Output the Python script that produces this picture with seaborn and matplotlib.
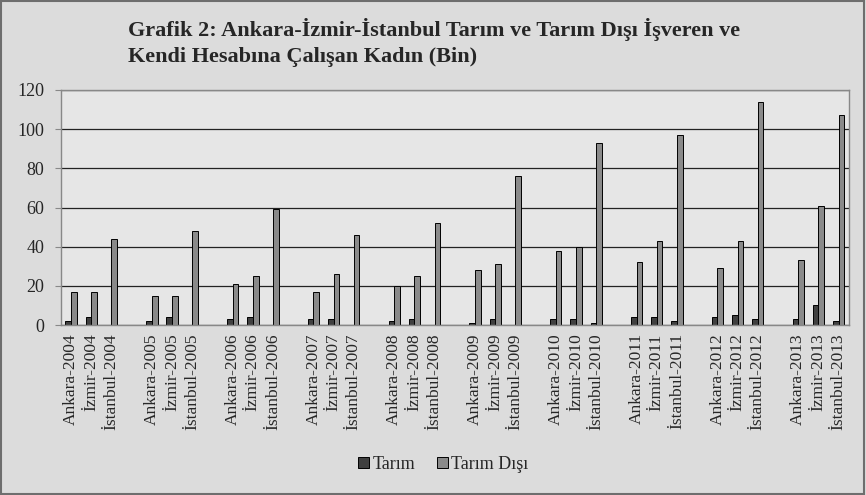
import pandas as pd
import matplotlib.pyplot as plt
import seaborn as sns
from matplotlib.patches import Rectangle

# data (thousands)
years = [2004, 2005, 2006, 2007, 2008, 2009, 2010, 2011, 2012, 2013]
cities = ['Ankara', 'İzmir', 'İstanbul']
tarim = [
    2, 4, 0,
    2, 4, 0,
    3, 4, 0,
    3, 3, 0,
    2, 3, 0,
    1, 3, 0,
    3, 3, 1,
    4, 4, 2,
    4, 5, 3,
    3, 10, 2,
]
tarim_disi = [
    17, 17, 44,
    15, 15, 48,
    21, 25, 59,
    17, 26, 46,
    20, 25, 52,
    28, 31, 76,
    38, 40, 93,
    32, 43, 97,
    29, 43, 114,
    33, 61, 107,
]
series_names = ['Tarım', 'Tarım Dışı']
series_colors = ['#404040', '#8a8a8a']


def create_visualization():
    # category order with an empty slot after every year
    labels = []
    order = []
    rows = []
    k = 0
    for i, y in enumerate(years):
        for c in cities:
            name = f'{c}-{y}'
            labels.append(name)
            order.append(name)
            rows.append({'kategori': name, 'seri': series_names[0], 'deger': tarim[k]})
            rows.append({'kategori': name, 'seri': series_names[1], 'deger': tarim_disi[k]})
            k += 1
        if i < len(years) - 1:
            gap = ' ' * (i + 1)
            labels.append('')
            order.append(gap)
    df = pd.DataFrame(rows)

    sns.set_style('white')
    plt.rcParams['font.family'] = ['Liberation Serif', 'DejaVu Serif']

    fig = plt.figure(figsize=(8.66, 4.95), dpi=100)
    fig.patch.set_facecolor('#dcdcdc')
    fig.patches.append(Rectangle((0.001, 0.002), 0.997, 0.995, transform=fig.transFigure,
                                 fill=False, edgecolor='#6e6e6e', linewidth=1.5))
    ax = fig.add_axes([0.0704, 0.3434, 0.9096, 0.4748])
    ax.set_facecolor('#e6e6e6')

    sns.barplot(data=df, x='kategori', y='deger', hue='seri', order=order,
                hue_order=series_names, palette=series_colors, width=0.56,
                edgecolor='black', linewidth=0.7, errorbar=None, ax=ax, legend=False)

    ax.set_ylim(0, 120)
    ax.set_xlim(-0.5, len(order) - 0.5)
    ax.set_yticks(range(0, 121, 20))
    ax.yaxis.grid(True, color='#222222', linewidth=0.9)
    ax.set_axisbelow(True)
    ax.set_xticks(range(len(order)))
    ax.set_xticklabels(labels, rotation=90, fontsize=12.5)
    ax.tick_params(axis='x', length=0, pad=6)
    ax.set_xticks([i - 0.5 for i in range(len(order) + 1)], minor=True)
    ax.tick_params(axis='x', which='minor', length=4, color='#888888', direction='out')
    ax.tick_params(axis='y', labelsize=13, length=4, color='#888888', left=True, pad=8)
    for s in ax.spines.values():
        s.set_color('#888888')
        s.set_linewidth(1.0)
    ax.set_xlabel('')
    ax.set_ylabel('')

    fig.text(0.148, 0.94, 'Grafik 2: Ankara-İzmir-İstanbul Tarım ve Tarım Dışı İşveren ve',
             fontsize=16, fontweight='bold', ha='left', va='center')
    fig.text(0.148, 0.885, 'Kendi Hesabına Çalışan Kadın (Bin)',
             fontsize=16, fontweight='bold', ha='left', va='center')

    handles = [Rectangle((0, 0), 1, 1, facecolor=c, edgecolor='black', linewidth=0.7)
               for c in series_colors]
    fig.legend(handles, series_names, loc='center', bbox_to_anchor=(0.512, 0.062),
               ncol=2, frameon=False, fontsize=13, handlelength=0.6, handleheight=0.6,
               handletextpad=0.2, columnspacing=1.2)

    plt.savefig('out.png', dpi=100, facecolor=fig.get_facecolor())
    plt.close()


if __name__ == "__main__":
    create_visualization()
